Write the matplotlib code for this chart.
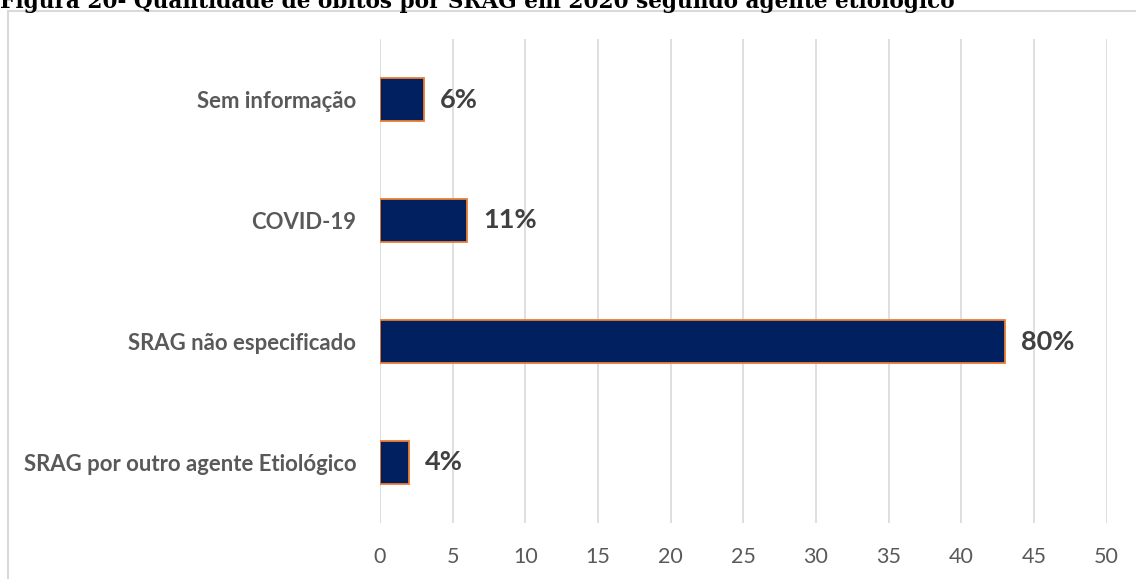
import numpy as np
import matplotlib as mpl
import matplotlib.pyplot as plt
from matplotlib.patches import Rectangle

mpl.rc("figure", dpi=100)

# data, bottom to top as drawn
categories = ["SRAG por outro agente Etiológico", "SRAG não especificado",
              "COVID-19", "Sem informação"]
obitos = [2, 43, 6, 3]
xticks = [0, 5, 10, 15, 20, 25, 30, 35, 40, 45, 50]
title = "Figura 20- Quantidade de óbitos por SRAG em 2020 segundo agente etiológico"

W, H = 1136, 579
fig = plt.figure(figsize=(W / 100, H / 100))
ax = fig.add_axes([380 / W, 1 - 523 / H, (1106.5 - 380) / W, (523 - 39) / H])

ypos = np.arange(len(categories))
ax.barh(ypos, obitos, height=0.36, color="#002060", edgecolor="#ED7D31",
        linewidth=1.3, zorder=3)

total = sum(obitos)
for y, v in zip(ypos, obitos):
    ax.text(v + 1.1, y, f"{round(v / total * 100)}%", va="center", ha="left",
            fontsize=19.5, fontweight="bold", color="#404040", family="Lato")

ax.set_xlim(0, 50)
ax.set_ylim(-0.5, len(categories) - 0.5)
ax.set_xticks(xticks)
ax.set_yticks(ypos)
ax.set_yticklabels(categories, fontsize=15.9, fontweight="bold", color="#595959", family="Lato")
ax.set_xticklabels([str(t) for t in xticks], fontsize=15.5, color="#595959", family="Lato")
ax.tick_params(axis="both", length=0)
ax.tick_params(axis="y", pad=17)
ax.tick_params(axis="x", pad=17)
ax.xaxis.grid(True, color="#d9d9d9", linewidth=1.2, zorder=0)
ax.set_axisbelow(True)
for s in ax.spines.values():
    s.set_visible(False)

# outer chart frame (cut by the figure edge on right and bottom)
fig.patches.append(Rectangle((7.5 / W, -0.2), 1.5, 1.2 - 11 / H, transform=fig.transFigure,
                             fill=False, edgecolor="#d9d9d9", linewidth=1.5))

# title, cropped at the top of the image
fig.text(0.0, 1 - 8 / H, title, ha="left", va="baseline", fontsize=15.6,
         fontweight="bold", family="DejaVu Serif", color="black")

plt.savefig("out.png", format="png")
plt.close()
